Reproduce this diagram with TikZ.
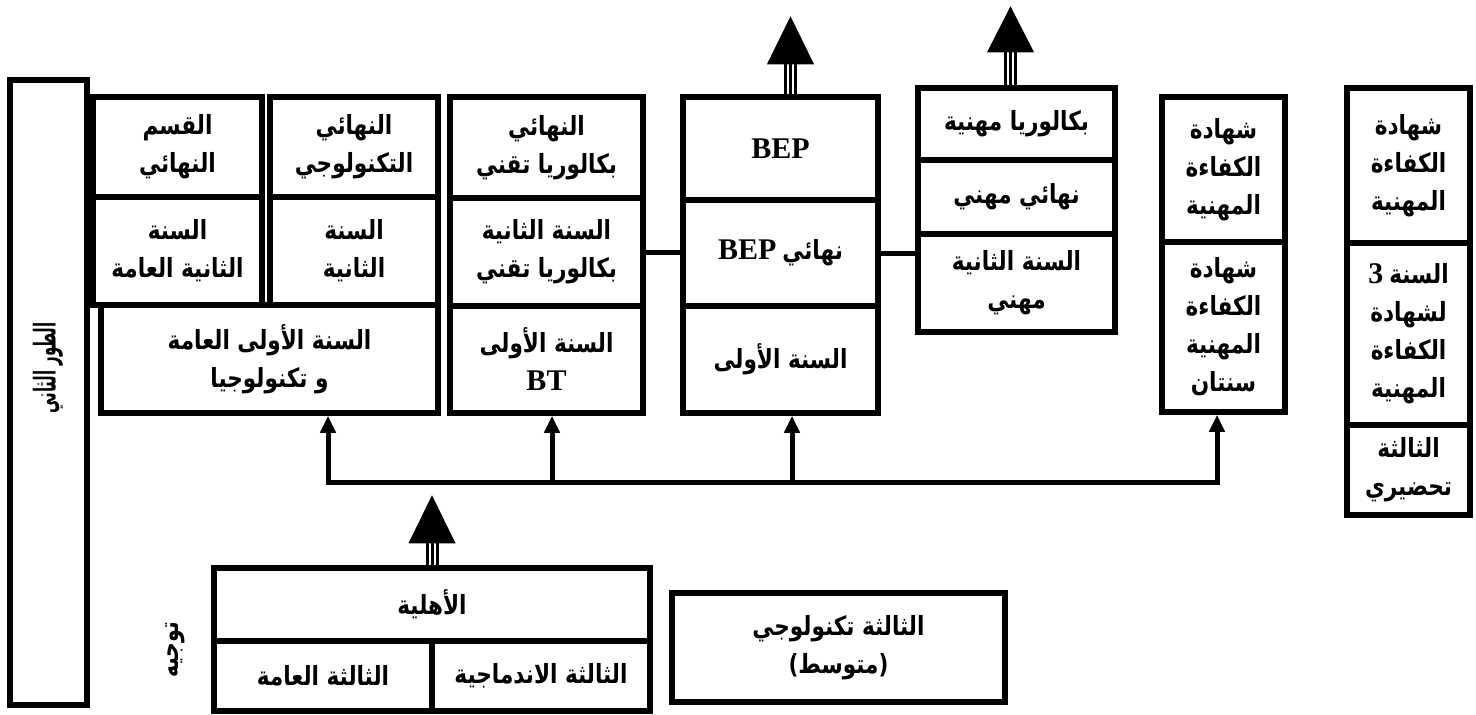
\documentclass[tikz,border=0pt]{standalone}
\usepackage{fontspec}
\setmainfont{Liberation Serif}
\newfontfamily\arfont[Script=Arabic]{DejaVu Sans}
\TeXXeTstate=1
\usetikzlibrary{arrows.meta}
\newcommand\AR[1]{\scalebox{0.9}[1.1]{\arfont\bfseries\beginR #1\endR}}
\newcommand\LT[1]{\beginL{\rmfamily\bfseries\fontsize{30}{38}\selectfont #1}\endL}
\newcommand\bx[6]{\node[cell, minimum width={(#4-#2)*1pt}, minimum height={(#5-#3)*1pt}] (#1) at ({(#2+#4)/2},{(#3+#5)/2}) {#6};}
\newcommand\bigup[4]{%
  \begin{scope}[shift={(#1)}, xshift=#2]
    \foreach \dx in {-5,0,5} \draw[line width=3pt] (\dx,0) -- (\dx,-#3);
    \fill (-23.5,-#3) -- (23.5,-#3) -- (0,-#4) -- cycle;
  \end{scope}}
\begin{document}
\begin{tikzpicture}[x=1pt,y=-1pt,
  cell/.style={draw, line width=5.5pt, align=center, inner sep=0pt, font=\fontsize{24}{38}\selectfont},
  conn/.style={line width=5pt},
  arr/.style={line width=5pt, -{Triangle[width=15pt,length=17pt]}},
  txt/.style={font=\fontsize{24}{38}\selectfont, inner sep=0pt}]
\useasboundingbox (0,0) rectangle (1476,715);
\fill[white] (0,0) rectangle (1476,715);
% left tall box
\bx{L}{10}{80}{87}{705}{}
\node[txt, rotate=90] (Lt) at (48,368) {\scalebox{0.62}[1.25]{\arfont\bfseries\beginR الطور الثاني\endR}};
\node[txt, rotate=90] (tw) at (175,650) {\scalebox{0.85}[1.1]{\arfont\bfseries\beginR توجيه\endR}};
% group 1
\bx{a1}{93}{97}{262}{197}{\AR{القسم}\\\AR{النهائي}}
\bx{a2}{270}{97}{438}{197}{\AR{النهائي}\\\AR{التكنولوجي}}
\bx{b1}{93}{197}{262}{305}{\AR{السنة}\\\AR{الثانية العامة}}
\bx{b2}{270}{197}{438}{305}{\AR{السنة}\\\AR{الثانية}}
\bx{c1}{101}{305}{438}{413}{\AR{السنة الأولى  العامة}\\\AR{و تكنولوجيا}}
% column 3
\bx{d1}{450}{97}{643}{198}{\AR{النهائي}\\\AR{بكالوريا تقني}}
\bx{d2}{450}{198}{643}{306}{\AR{السنة الثانية}\\\AR{بكالوريا تقني}}
\bx{d3}{450}{306}{643}{413}{\AR{السنة الأولى}\\\LT{BT}}
% column 4
\bx{e1}{683}{97}{878}{200}{\LT{BEP}}
\bx{e2}{683}{200}{878}{306}{\LT{BEP} \AR{نهائي}}
\bx{e3}{683}{306}{878}{413}{\AR{السنة الأولى}}
% column 5
\bx{f1}{918}{88}{1115}{160}{\AR{بكالوريا مهنية}}
\bx{f2}{918}{160}{1115}{234}{\AR{نهائي مهني}}
\bx{f3}{918}{234}{1115}{332}{\AR{السنة الثانية}\\\AR{مهني}}
% column 6
\bx{g1}{1162}{97}{1285}{242}{\AR{شهادة}\\\AR{الكفاءة}\\\AR{المهنية}}
\bx{g2}{1162}{242}{1285}{412}{\AR{شهادة}\\\AR{الكفاءة}\\\AR{المهنية}\\\AR{سنتان}}
% column 7
\bx{h1}{1347}{88}{1470}{243}{\AR{شهادة}\\\AR{الكفاءة}\\\AR{المهنية}}
\bx{h2}{1347}{243}{1470}{425}{\LT{3} \AR{السنة}\\\AR{لشهادة}\\\AR{الكفاءة}\\\AR{المهنية}}
\bx{h3}{1347}{425}{1470}{515}{\AR{الثالثة}\\\AR{تحضيري}}
% bottom
\bx{k1}{214}{568}{650}{641}{\AR{الأهلية}}
\bx{k2}{214}{641}{432}{711}{\AR{الثالثة العامة}}
\bx{k3}{432}{641}{650}{711}{\AR{الثالثة الاندماجية}}
\bx{m}{672}{593}{1005}{702}{\AR{الثالثة تكنولوجي}\\\AR{(متوسط)}}
% horizontal links
\draw[conn] (d2.east) -- (d2.east -| e2.west);
\draw[conn] (e2.east) -- (e2.east -| f3.west);
% bus
\coordinate (p1) at (328,482);
\coordinate (p2) at (552,482);
\coordinate (p3) at (792,482);
\coordinate (p4) at (1217,482);
\draw[conn, line cap=rect] (p1) -- (p4);
\draw[arr] (p1) -- (p1 |- c1.south);
\draw[arr] (p2) -- (p2 |- d3.south);
\draw[arr] (p3) -- (p3 |- e3.south);
\draw[arr] (p4) -- (p4 |- g2.south);
% big arrows
\bigup{k1.north}{0pt}{22}{70}
\bigup{e1.north}{10pt}{30}{78}
\bigup{f1.north}{-6pt}{33}{79}
\end{tikzpicture}
\end{document}
